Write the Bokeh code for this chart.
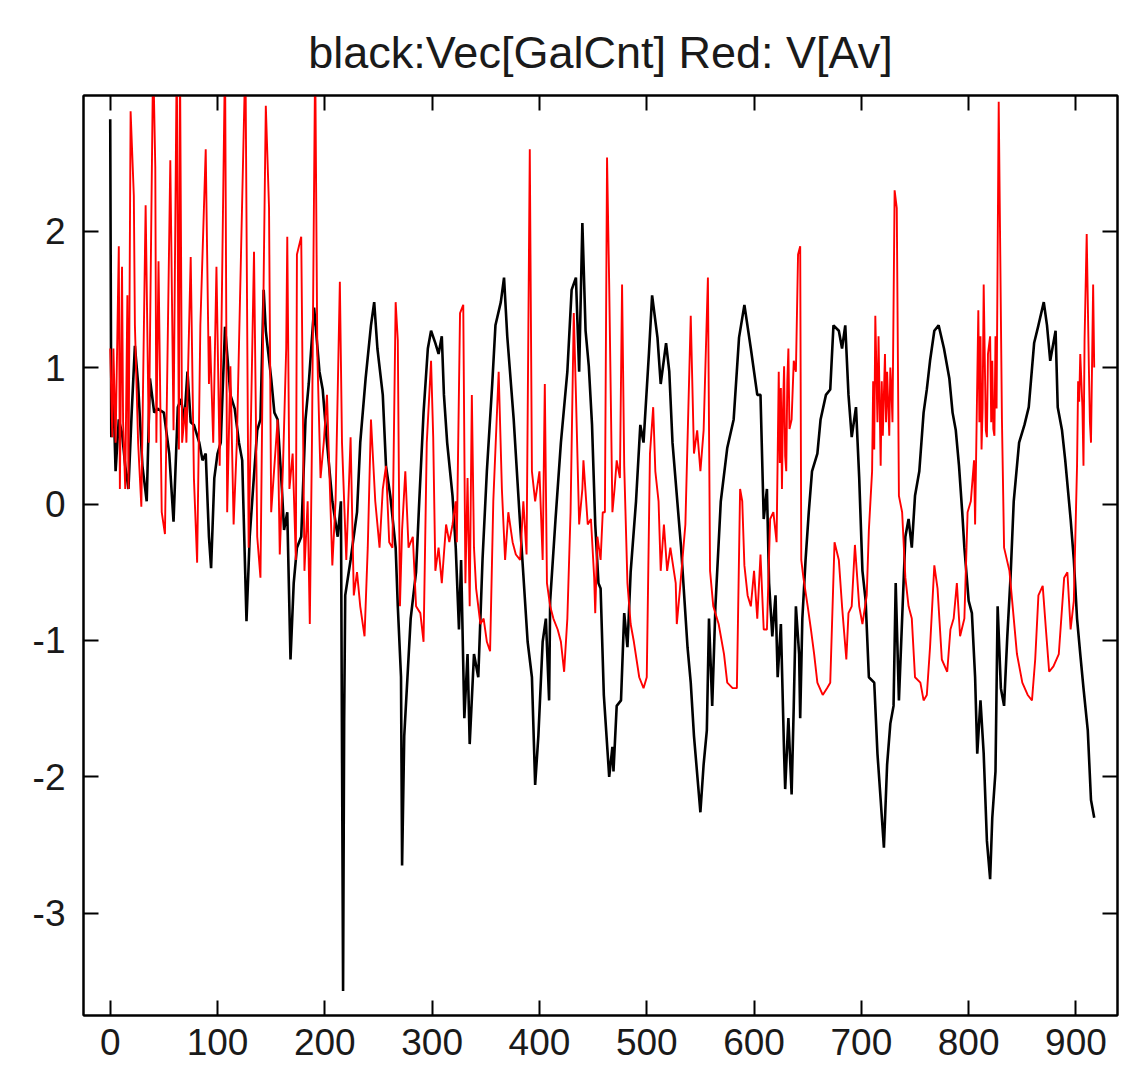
from bokeh.plotting import figure
from bokeh.models import LinearAxis, FixedTicker, Range1d, CustomJSTickFormatter
from bokeh.embed import file_html
from bokeh.resources import INLINE

title_text = "black:Vec[GalCnt] Red: V[Av]"
x_ticks = [0, 100, 200, 300, 400, 500, 600, 700, 800, 900]
y_ticks = [-3, -2, -1, 0, 1, 2]

black_x = [0, 1, 3, 5, 8, 11, 14, 17, 20, 23, 26, 30, 34, 37, 41, 44, 50, 55, 59, 63, 66, 69, 72, 75, 78,
           83, 86, 89, 92, 94, 97, 100, 103, 107, 112, 116, 120, 123, 127, 130, 133, 137, 140, 143, 145,
           150, 153, 156, 160, 162, 165, 168, 171, 174, 178, 182, 185, 190, 195, 198, 202, 207, 212, 215,
           217, 218, 219, 224, 230, 233, 238, 243, 246, 249, 254, 257, 261, 266, 268, 271, 272, 274, 277,
           280, 285, 288, 292, 296, 299, 303, 306, 309, 311, 314, 319, 322, 325, 327, 330, 333, 335, 339,
           343, 347, 351, 356, 359, 364, 367, 370, 376, 382, 389, 393, 396, 399, 403, 406, 409, 410, 415,
           420, 426, 430, 434, 437, 440, 443, 446, 449, 452, 455, 457, 460, 465, 468, 469, 472, 476, 479,
           482, 485, 490, 494, 497, 502, 505, 510, 513, 518, 521, 524, 532, 538, 541, 544, 550, 553, 556,
           558, 561, 564, 569, 575, 581, 586, 591, 597, 603, 606, 609, 612, 614, 617, 620, 622, 625, 628,
           629, 632, 635, 637, 639, 642, 643, 645, 648, 651, 654, 659, 662, 667, 671, 674, 679, 682, 685,
           688, 691, 695, 698, 701, 704, 707, 712, 715, 718, 721, 724, 727, 730, 732, 735, 738, 741, 744,
           747, 750, 754, 758, 761, 764, 768, 772, 777, 782, 785, 788, 791, 794, 796, 800, 803, 806, 808,
           811, 814, 817, 820, 822, 825, 827, 830, 833, 836, 839, 842, 847, 852, 856, 861, 865, 870, 873,
           876, 881, 883, 887, 890, 895, 898, 901, 904, 907, 911, 914, 917]
black_y = [2.82, 0.49, 0.80, 0.24, 0.62, 0.52, 0.28, 0.11, 0.67, 1.16, 0.88, 0.28, 0.02, 0.92, 0.67, 0.70,
           0.67, 0.37, -0.13, 0.71, 0.77, 0.60, 0.97, 0.60, 0.58, 0.45, 0.32, 0.37, -0.24, -0.47, 0.19,
           0.37, 0.45, 1.30, 0.80, 0.70, 0.45, 0.32, -0.86, -0.24, 0.10, 0.54, 0.62, 1.57, 1.27, 0.92,
           0.67, 0.62, 0.11, -0.19, -0.06, -1.14, -0.58, -0.32, -0.24, 0.62, 0.88, 1.44, 0.97, 0.84, 0.45,
           0.02, -0.24, 0.02, -3.57, -1.60, -0.67, -0.41, -0.06, 0.45, 0.92, 1.31, 1.48, 1.14, 0.80, 0.28,
           0.06, -0.32, -0.75, -1.27, -2.65, -1.70, -1.27, -0.84, -0.50, 0.02, 0.67, 1.14, 1.27, 1.18, 1.10,
           1.23, 0.80, 0.45, 0.06, -0.32, -0.92, -0.41, -1.57, -1.10, -1.76, -1.10, -1.27, -0.40, 0.24,
           0.88, 1.31, 1.48, 1.66, 1.23, 0.62, -0.15, -1.01, -1.27, -2.06, -1.70, -1.01, -0.84, -1.44,
           -0.71, -0.11, 0.45, 0.97, 1.57, 1.66, 0.97, 2.06, 1.27, 1.01, 0.58, -0.15, -0.58, -0.62, -1.40,
           -2.00, -1.78, -1.96, -1.48, -1.44, -0.80, -1.05, -0.50, 0.02, 0.58, 0.45, 1.10, 1.53, 1.22, 0.88,
           1.18, 0.97, 0.45, -0.32, -1.05, -1.31, -1.70, -2.26, -1.91, -1.66, -0.84, -1.48, -0.75, 0.02,
           0.41, 0.62, 1.22, 1.46, 1.14, 0.80, 0.80, -0.11, 0.11, -0.58, -0.97, -0.67, -1.27, -0.88, -1.83,
           -2.09, -1.57, -2.13, -1.48, -0.75, -1.10, -1.57, -0.84, -0.41, -0.06, 0.24, 0.37, 0.62, 0.80,
           0.84, 1.31, 1.27, 1.14, 1.31, 0.80, 0.49, 0.71, 0.19, -0.49, -0.71, -1.27, -1.31, -1.83, -2.17,
           -2.52, -1.91, -1.61, -1.48, -0.58, -1.44, -0.84, -0.24, -0.11, -0.32, 0.06, 0.24, 0.67, 0.84,
           1.05, 1.27, 1.31, 1.14, 0.92, 0.67, 0.54, 0.28, -0.06, -0.32, -0.71, -0.80, -1.27, -1.83, -1.44,
           -1.83, -2.47, -2.75, -2.30, -1.96, -0.75, -1.35, -1.48, -0.97, -0.54, 0.02, 0.45, 0.58, 0.71,
           1.18, 1.31, 1.48, 1.31, 1.05, 1.27, 0.71, 0.54, 0.32, -0.11, -0.41, -0.84, -1.10, -1.35, -1.66,
           -2.17, -2.30]

red_x = [0, 2, 3, 5, 8, 9, 11, 12, 14, 16, 17, 19, 22, 23, 26, 29, 33, 36, 40, 42, 43, 45, 48, 51, 56,
         59, 62, 64, 65, 67, 70, 71, 75, 78, 81, 84, 89, 92, 93, 96, 99, 102, 107, 109, 112, 115, 118,
         126, 129, 134, 137, 140, 143, 145, 148, 150, 153, 156, 158, 161, 164, 165, 167, 170, 173, 174,
         178, 181, 184, 186, 188, 191, 193, 196, 199, 202, 207, 210, 214, 216, 220, 224, 227, 230, 233,
         237, 240, 243, 247, 251, 254, 257, 260, 263, 266, 268, 270, 272, 275, 278, 282, 285, 289, 292,
         295, 299, 301, 303, 306, 309, 313, 316, 319, 322, 323, 326, 329, 331, 333, 335, 337, 339, 341,
         345, 348, 351, 354, 357, 362, 365, 368, 371, 375, 378, 382, 385, 388, 391, 393, 396, 400, 403,
         405, 407, 410, 413, 417, 420, 423, 426, 429, 432, 434, 437, 440, 441, 445, 448, 451, 452, 454,
         457, 459, 461, 463, 465, 468, 470, 472, 475, 477, 479, 482, 485, 488, 493, 497, 500, 503, 506,
         508, 511, 513, 516, 519, 522, 527, 528, 531, 536, 541, 544, 547, 550, 553, 557, 559, 562, 567,
         572, 575, 580, 584, 587, 589, 591, 594, 597, 600, 603, 606, 609, 612, 615, 618, 621, 623, 624,
         625, 626, 627, 628, 629, 630, 631, 632, 633, 635, 637, 639, 641, 643, 644, 646, 650, 653, 656,
         659, 664, 668, 671, 675, 679, 682, 686, 688, 691, 694, 698, 701, 705, 707, 710, 711, 712, 713,
         715, 716, 718, 719, 720, 721, 722, 723, 724, 726, 727, 728, 729, 731, 733, 735, 738, 741, 744,
         747, 750, 755, 758, 761, 764, 768, 771, 775, 780, 783, 786, 789, 792, 796, 799, 802, 805, 806,
         809, 810, 811, 812, 813, 814, 816, 817, 818, 820, 821, 822, 823, 824, 825, 826, 828, 831, 833,
         838, 841, 845, 850, 855, 859, 862, 865, 869, 872, 875, 879, 884, 889, 892, 895, 898, 901, 902,
         903, 904, 906, 907, 908, 910, 912, 913, 914, 916, 917]
red_y = [1.14, 0.49, 1.14, 0.45, 1.89, 0.11, 1.74, 0.60, 0.11, 1.53, 0.11, 2.88, 2.26, 1.31, 0.45, -0.02,
         2.19, 0.45, 3.30, 2.47, 0.45, 1.78, -0.06, -0.22, 2.52, 0.54, 3.30, 0.40, 3.30, 0.45, 0.71, 0.45,
         1.81, 0.19, -0.43, 1.31, 2.60, 0.88, 1.23, 0.45, 1.74, 0.28, 3.30, -0.06, 1.01, -0.15, 0.45,
         3.30, -0.32, 1.85, -0.24, -0.54, 1.66, 2.92, 2.17, -0.06, 0.28, 0.62, -0.37, 0.28, 1.14, 1.96,
         0.11, 0.37, -0.41, 1.83, 1.96, -0.49, 0.02, -0.88, 0.45, 3.30, 1.10, 0.19, 0.45, 0.80, -0.45,
         0.02, 1.63, 0.45, -0.41, 0.49, -0.67, -0.50, -0.75, -0.97, -0.32, 0.62, 0.02, -0.32, 0.11, 0.28,
         -0.28, -0.32, 1.48, 1.20, -0.75, -0.19, 0.24, -0.32, -0.24, -0.75, -0.80, -1.01, 0.45, 1.05,
         0.49, -0.49, -0.32, -0.58, -0.15, -0.28, -0.15, 0.02, -0.28, 1.40, 1.46, -0.58, 0.19, -0.75,
         0.80, -0.32, -0.62, -0.88, -0.84, -1.01, -1.08, 0.02, 0.97, 0.11, -0.41, -0.06, -0.28, -0.37,
         -0.41, 0.02, -0.37, 2.60, 0.24, 0.02, 0.24, -0.41, 0.88, -0.58, -0.75, -0.84, -0.92, -1.01,
         -1.23, -0.84, -0.06, 1.40, 0.80, -0.15, 0.11, 0.32, -0.15, -0.11, -0.54, -0.80, -0.24, -0.41,
         -0.06, -0.06, 2.54, 1.61, -0.06, 0.11, 0.32, 0.19, 1.61, 0.28, -0.58, -0.88, -1.01, -1.27, -1.35,
         -1.27, 0.37, 0.71, 0.24, 0.02, -0.49, -0.15, -0.49, -0.32, -0.58, -0.88, -0.62, -0.15, 1.38,
         0.37, 0.54, 0.24, 0.54, 1.66, -0.49, -0.75, -0.88, -1.10, -1.31, -1.35, -1.35, 0.11, 0.02,
         -0.45, -0.67, -0.75, -0.49, -0.84, -0.37, -0.92, -0.92, -0.11, -0.06, -0.28, 0.97, 0.30,
         0.85, 0.11, 0.70, 1.01, 0.35, 0.24, 0.90, 1.14, 0.55, 0.62, 1.05, 0.97, 1.83, 1.89, -0.41,
         -0.54, -0.75, -0.92, -1.10, -1.31, -1.40, -1.35, -1.31, -0.28, -0.41, -0.75, -1.14, -0.80,
         -0.75, -0.30, -0.75, -0.88, -0.67, -0.19, 0.24, 0.90, 0.40, 1.38, 0.60, 1.23, 0.28, 0.90,
         0.50, 0.80, 1.10, 0.60, 0.97, 0.50, 1.00, 0.84, 0.60, 2.30, 2.17, 0.06, -0.06, -0.54, -0.75,
         -0.84, -1.27, -1.31, -1.44, -1.40, -1.05, -0.45, -0.62, -1.14, -1.23, -0.92, -0.84, -0.58,
         -0.97, -0.84, -0.06, 0.02, 0.32, -0.15, 1.42, 0.60, 1.23, 0.40, 0.70, 1.61, 0.54, 0.49, 1.10,
         1.23, 0.60, 1.05, 0.55, 0.50, 1.23, 0.70, 2.95, 0.62, -0.32, -0.49, -0.75, -1.10, -1.31, -1.40,
         -1.44, -1.14, -0.67, -0.60, -0.92, -1.23, -1.19, -1.10, -0.54, -0.50, -0.92, -0.71, 0.28, 0.90,
         0.75, 1.10, 0.71, 0.28, 1.20, 1.98, 1.01, 0.60, 0.45, 1.61, 1.00]

FONT = "Liberation Sans"
INK = "#1a1a1a"

p = figure(width=1135, height=1070,
           x_range=Range1d(-24.9, 938.7), y_range=Range1d(-3.75, 2.995),
           output_backend="svg", toolbar_location=None,
           min_border_left=83, min_border_right=18, min_border_top=95, min_border_bottom=55)

p.title.text = title_text
p.title.text_font = FONT
p.title.text_font_size = "45px"
p.title.text_font_style = "normal"
p.title.text_color = INK
p.title.align = "center"
p.title.standoff = 36

p.xgrid.visible = False
p.ygrid.visible = False
p.outline_line_color = "black"
p.outline_line_width = 2
p.background_fill_color = "white"
p.border_fill_color = "white"


def style_axis(ax, ticks, show_labels, standoff):
    ax.ticker = FixedTicker(ticks=ticks)
    ax.major_tick_in = 15
    ax.major_tick_out = 0
    ax.minor_tick_in = 0
    ax.minor_tick_out = 0
    ax.major_tick_line_width = 2
    ax.major_tick_line_color = "black"
    ax.axis_line_width = 2
    ax.axis_line_color = "black"
    ax.major_label_text_font = FONT
    ax.major_label_text_font_size = "37px"
    ax.major_label_text_color = INK
    ax.major_label_standoff = standoff
    if show_labels:
        ax.major_label_overrides = {t: str(t) for t in ticks}
    else:
        ax.formatter = CustomJSTickFormatter(code="return ''")
        ax.major_label_standoff = 0


style_axis(p.xaxis[0], x_ticks, True, 13)
style_axis(p.yaxis[0], y_ticks, True, 18)

# mirror axes: gnuplot-style inward ticks on all four sides
top = LinearAxis()
style_axis(top, x_ticks, False, 0)
p.add_layout(top, "above")
right = LinearAxis()
style_axis(right, y_ticks, False, 0)
p.add_layout(right, "right")

p.line(black_x, black_y, line_color="black", line_width=2.6)
p.line(red_x, red_y, line_color="red", line_width=1.9)

open("out.html", "w").write(file_html(p, INLINE))
